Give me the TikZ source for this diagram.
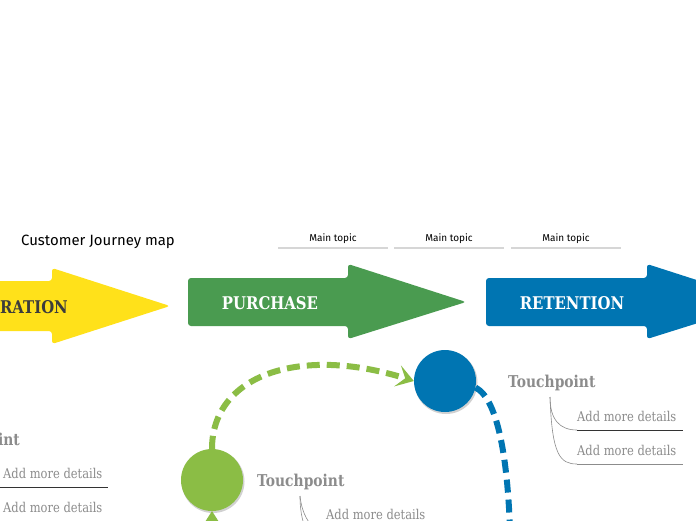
\documentclass[tikz,border=0pt]{standalone}
\usepackage{fontspec}
\usetikzlibrary{arrows.meta}
\newfontfamily\slab[FakeStretch=0.85]{DejaVu Serif}
\newfontfamily\hand{Fira Sans}
\definecolor{yel}{HTML}{FFE11A}
\definecolor{grn}{HTML}{4A9B50}
\definecolor{blu}{HTML}{0075B2}
\definecolor{lime}{HTML}{8BBD45}
\definecolor{tgray}{HTML}{8C8C8C}
\definecolor{lgray}{HTML}{D6D6D6}
\definecolor{dtext}{HTML}{3C3C3C}
\tikzset{
  bigarrow/.style={rounded corners=3pt},
  stagetext/.style={font=\slab\bfseries\fontsize{17.5}{20}\selectfont, inner sep=0pt},
  tp/.style={font=\slab\bfseries\fontsize{16.3}{19}\selectfont, text=tgray, inner sep=0pt, anchor=base west},
  det/.style={font=\slab\fontsize{13.5}{16}\selectfont, text=tgray, inner sep=0pt, anchor=base west},
  maintopic/.style={font=\hand\fontsize{10}{12}\selectfont, inner sep=0pt, anchor=base},
  link/.style={draw=tgray, line width=0.6pt},
  uline/.style={line width=0.8pt},
  dot/.style={circle, minimum size=62pt, inner sep=0pt},
  journey/.style={line width=6pt, dash pattern=on 13pt off 7pt},
}
\begin{document}
\begin{tikzpicture}[x=1pt,y=-1pt]
\useasboundingbox (0,0) rectangle (696,520);
\clip (0,0) rectangle (696,520);
\fill[white] (0,0) rectangle (696,520);

% title
\node[font=\hand\fontsize{14.9}{17}\selectfont, inner sep=0pt, anchor=base west] (title) at (21,245) {Customer Journey map};

% main topics
\foreach \x/\n in {333/a,449/b,566/c}{
  \node[maintopic] (mt\n) at (\x,241) {Main topic};
}
\draw[lgray, line width=1.3pt] (278,248) -- (388,248);
\draw[lgray, line width=1.3pt] (394,248) -- (504,248);
\draw[lgray, line width=1.3pt] (511,248) -- (621,248);

% stage arrows
\fill[yel, bigarrow] (-20,281) -- (52,281) -- (52,268) -- (170,306) -- (52,344) -- (52,331) -- (-20,331) -- cycle;
\fill[grn, bigarrow] (188,278) -- (348,278) -- (348,264) -- (466,302) -- (348,339) -- (348,326) -- (188,326) -- cycle;
\fill[blu, bigarrow] (486,278) -- (647,278) -- (647,264) -- (765,302) -- (647,339) -- (647,326) -- (486,326) -- cycle;
\node[stagetext, text=dtext, anchor=east] (s1) at (68,307) {ERATION};
\node[stagetext, text=white] (s2) at (270,303) {PURCHASE};
\node[stagetext, text=white] (s3) at (572,303) {RETENTION};

% circles
\fill[black!18] (213,481.5) circle (31.5pt);
\fill[black!18] (446,382.5) circle (31.5pt);
\node[dot, fill=lime] (gc) at (212,480) {};
\node[dot, fill=blu] (bc) at (445,381) {};

% journey lines
\draw[lime, journey, -{Stealth[length=17pt,width=22pt,inset=8pt]}] (gc.north) .. controls (212,375) and (300,345) .. (bc.west);
\draw[blu, journey] (bc.-12) .. controls (500,400) and (508,470) .. (510,530);
\fill[lime] (212,511) -- (219,522) -- (205,522) -- cycle;

% touchpoint right
\node[tp] (tp1) at (508,387) {Touchpoint};
\node[det] (d11) at (577,421) {Add more details};
\node[det] (d12) at (577,455) {Add more details};
\coordinate (r1) at (550,397);
\draw[link] (r1) .. controls (550,420) and (560,430) .. (577,430);
\draw[link] (r1) .. controls (552,455) and (560,464) .. (577,464);
\draw[uline, black!80] (577,430) -- (683,430);
\draw[uline, tgray] (577,464) -- (683,464);

% touchpoint middle
\node[tp] (tp2) at (257,486) {Touchpoint};
\node[det] (d21) at (326,519) {Add more details};
\coordinate (r2) at (300,496);
\draw[link] (r2) .. controls (300,515) and (304,525) .. (306,530);
\draw[link] (r2) .. controls (302,515) and (310,525) .. (316,530);

% touchpoint left
\node[tp, anchor=base east] (tp3) at (20,445) {int};
\node[det] (d31) at (3,478) {Add more details};
\node[det] (d32) at (3,512) {Add more details};
\draw[uline, black!80] (0,487) -- (108,487);
\end{tikzpicture}
\end{document}
